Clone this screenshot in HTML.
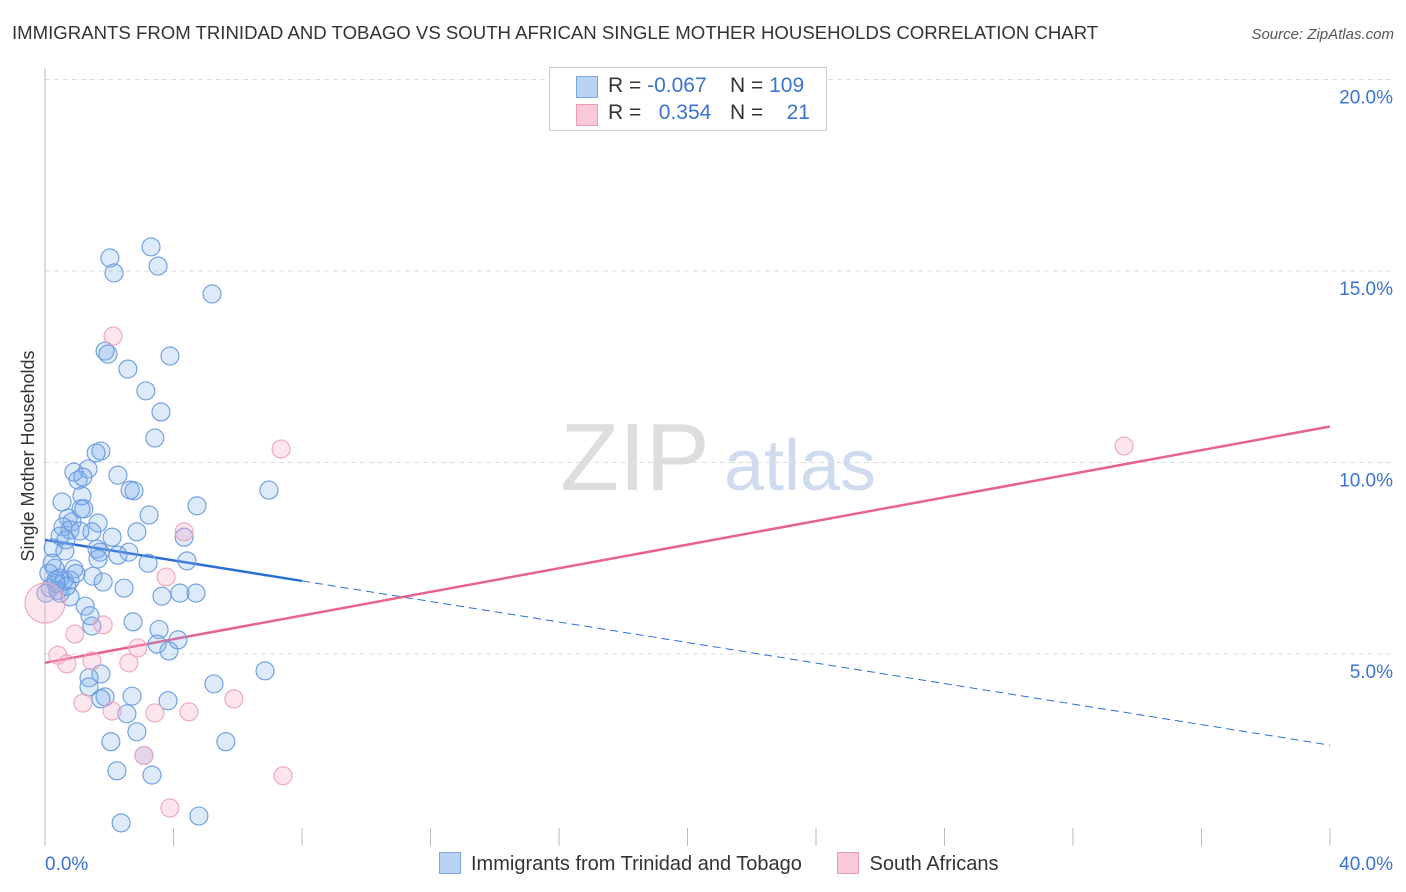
<!DOCTYPE html>
<html><head><meta charset="utf-8"><style>
body{margin:0;background:#fff;font-family:"Liberation Sans",sans-serif;}
#wrap{position:relative;width:1406px;height:892px;overflow:hidden;}
svg text{font-family:"Liberation Sans",sans-serif;}
</style></head><body><div id="wrap">
<svg id="chart" width="1406" height="892" xmlns="http://www.w3.org/2000/svg">
<text x="12" y="39" font-size="18.6" fill="#333">IMMIGRANTS FROM TRINIDAD AND TOBAGO VS SOUTH AFRICAN SINGLE MOTHER HOUSEHOLDS CORRELATION CHART</text>
<text x="1394" y="39" font-size="15" fill="#555" font-style="italic" text-anchor="end">Source: ZipAtlas.com</text>
<text x="0" y="0" font-size="18" fill="#333" transform="translate(34,456) rotate(-90)" text-anchor="middle">Single Mother Households</text>
<g><text x="635" y="490" font-size="96" fill="#ddd" font-family="Liberation Serif" text-anchor="middle">ZIP</text><text x="800" y="490" font-size="72" fill="#cfdcf0" text-anchor="middle">atlas</text></g>
<g id="grid"></g><g id="axes"></g><g id="lines"></g><g id="pts"></g>
</svg>
<div style="position:absolute;left:549px;top:67px;width:276px;height:62px;border:1px solid #ccc;background:#fff;font-size:21px;color:#333;">
<div style="position:absolute;left:26px;top:8px;width:20px;height:20px;background:#b8d3f4;border:1px solid #7aa7e0"></div>
<div style="position:absolute;left:58px;top:6px;">R = <span style="color:#3a73d0">-0.067</span></div>
<div style="position:absolute;left:180px;top:6px;">N = <span style="color:#3a73d0">109</span></div>
<div style="position:absolute;left:26px;top:36px;width:20px;height:20px;background:#f9c9d8;border:1px solid #ee9ab4"></div>
<div style="position:absolute;left:58px;top:33px;">R = &nbsp;&nbsp;<span style="color:#3a73d0">0.354</span></div>
<div style="position:absolute;left:180px;top:33px;">N = &nbsp;&nbsp;&nbsp;<span style="color:#3a73d0">21</span></div>
</div>
<div style="position:absolute;left:439px;top:852px;font-size:20px;color:#333;">
<span style="display:inline-block;width:20px;height:20px;background:#b8d3f4;border:1px solid #7aa7e0;vertical-align:-4px;margin-right:10px"></span><span>Immigrants from Trinidad and Tobago</span>
<span style="display:inline-block;width:20px;height:20px;background:#f9c9d8;border:1px solid #ee9ab4;vertical-align:-4px;margin:0 10px 0 30px"></span><span>South Africans</span>
</div>
</div>
<script>
const blueX=[3.30,2.02,3.52,2.15,5.20,1.87,1.96,3.89,2.58,3.14,3.61,3.42,1.74,1.59,0.90,1.34,1.03,1.18,2.27,2.65,2.77,6.97,1.15,0.53,4.73,1.21,1.12,3.24,0.72,0.84,1.65,0.56,0.78,1.09,1.46,0.47,2.09,2.86,4.33,0.65,0.25,0.62,1.62,1.71,2.61,2.27,1.65,3.21,4.42,0.22,0.31,0.90,0.12,0.47,1.49,0.34,0.59,0.78,1.81,2.46,0.16,0.47,0.03,3.64,4.20,4.70,0.78,1.25,2.74,1.46,3.55,4.14,3.49,3.86,6.85,1.74,1.37,5.26,1.37,1.87,1.74,2.71,3.83,2.55,2.86,2.05,5.63,3.08,2.24,3.33,4.79,2.37,0.40,0.68,0.96,0.34,1.40];
const blueY=[15.63,15.34,15.13,14.95,14.40,12.91,12.83,12.78,12.44,11.87,11.32,10.64,10.30,10.25,9.75,9.83,9.54,9.62,9.67,9.28,9.26,9.28,9.13,8.97,8.87,8.79,8.79,8.63,8.55,8.45,8.42,8.32,8.24,8.21,8.19,8.08,8.05,8.19,8.05,7.98,7.77,7.69,7.74,7.66,7.66,7.58,7.48,7.37,7.43,7.37,7.24,7.22,7.11,6.98,7.03,6.93,6.93,6.93,6.88,6.72,6.72,6.59,6.59,6.51,6.59,6.59,6.49,6.25,5.84,5.73,5.64,5.37,5.26,5.08,4.56,4.48,4.38,4.22,4.14,3.88,3.83,3.90,3.78,3.44,2.97,2.71,2.71,2.35,1.95,1.84,0.77,0.59,6.66,6.77,7.10,6.85,6.00];
const pinkX=[2.12,7.35,33.59,4.33,3.77,0.00,0.93,1.81,0.40,0.68,1.46,2.61,2.89,1.18,2.09,3.42,4.48,5.88,3.08,7.41,3.89];
const pinkY=[13.30,10.35,10.43,8.19,7.01,6.33,5.52,5.76,4.97,4.74,4.82,4.77,5.16,3.72,3.51,3.46,3.49,3.83,2.35,1.82,0.98];
const pinkR=[9,9,9,9,9,20,9,9,9,9,9,9,9,9,9,9,9,9,9,9,9];
const blueTrend=[7.98,2.62]; const pinkTrend=[4.77,10.94];
const yTicks=[5,10,15,20]; const yTickLabels=["5.0%","10.0%","15.0%","20.0%"];
const xTicks=[0,4,8,12,16,20,24,28,32,36,40];
const NS="http://www.w3.org/2000/svg";
const sx=v=>45+v/40*1285, sy=v=>845.5-v/5*191.5;
function mk(t,a,p){const e=document.createElementNS(NS,t);for(const k in a)e.setAttribute(k,a[k]);document.getElementById(p).appendChild(e);return e;}
yTicks.forEach((v,i)=>{
 const l=mk('line',{x1:45,x2:1394,y1:sy(v),y2:sy(v),stroke:'#ddd','stroke-dasharray':'5,4'},'grid');
 
 
 const t=mk('text',{x:1393,y:sy(v)+24,'font-size':19,fill:'#3a73d0','text-anchor':'end'},'axes');t.textContent=yTickLabels[i];
 
 
});
const ya=mk('line',{x1:45,x2:45,y1:68,y2:846,stroke:'#bbb'},'axes');


xTicks.forEach(v=>{const t=mk('line',{x1:sx(v),x2:sx(v),y1:828,y2:846,stroke:'#bbb'},'axes');
 
 });
[[0,'0.0%','start',45],[40,'40.0%','end',1393]].forEach(a=>{const t=mk('text',{x:a[3],y:870,'font-size':19,fill:'#3a73d0','text-anchor':a[2]},'axes');t.textContent=a[1];
 
 });
const bAt=x=>blueTrend[0]+(blueTrend[1]-blueTrend[0])*x/40;
let l1=mk('line',{x1:sx(0),y1:sy(bAt(0)),x2:sx(8),y2:sy(bAt(8)),stroke:'#2a6fd6','stroke-width':2.5},'lines');


let l2=mk('line',{x1:sx(8),y1:sy(bAt(8)),x2:sx(40),y2:sy(bAt(40)),stroke:'#2a6fd6','stroke-width':1,'stroke-dasharray':'8,5'},'lines');


let l3=mk('line',{x1:sx(0),y1:sy(pinkTrend[0]),x2:sx(40),y2:sy(pinkTrend[1]),stroke:'#e8628e','stroke-width':2.5},'lines');


blueX.forEach((x,i)=>{const c=mk('circle',{cx:sx(x),cy:sy(blueY[i]),r:9,fill:'rgba(120,170,235,0.25)',stroke:'#6a9be0','stroke-width':1.1},'pts');
 
 });
pinkX.forEach((x,i)=>{const c=mk('circle',{cx:sx(x),cy:sy(pinkY[i]),r:pinkR[i],fill:'rgba(245,170,195,0.3)',stroke:'#f0a4bc','stroke-width':1.1},'pts');
 
 });
</script>
</body></html>
